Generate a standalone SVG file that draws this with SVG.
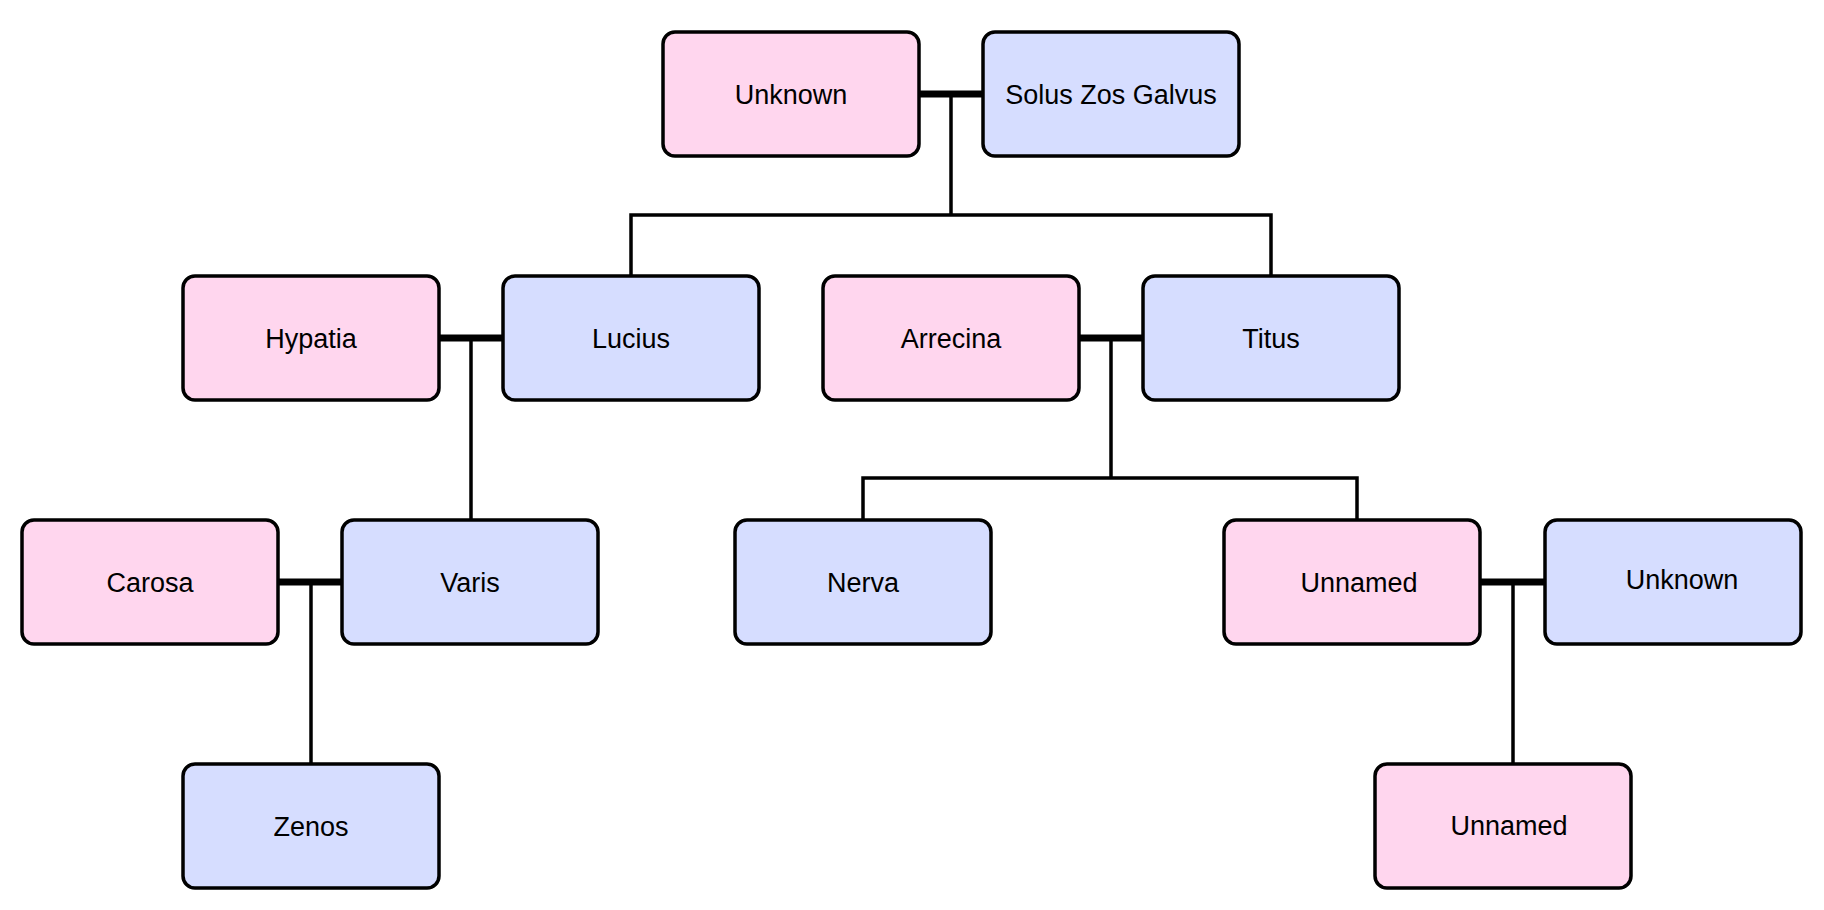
<svg xmlns="http://www.w3.org/2000/svg" width="1824" height="910" viewBox="0 0 1824 910">
<style>
.f{fill:#FFD6EE;stroke:#000;stroke-width:3.5}
.m{fill:#D6DDFF;stroke:#000;stroke-width:3.5}
.t{font-family:"Liberation Sans",Arial,sans-serif;font-size:27px;fill:#000;text-anchor:middle}
.c{stroke:#000;stroke-width:3.5;fill:none}
.k{stroke:#000;stroke-width:7;fill:none}
</style>
<rect width="1824" height="910" fill="#fff"/>
<g id="connectors">
<line class="k" x1="919" y1="94" x2="983" y2="94"/>
<path class="c" d="M951 94V215M631 276V215H1271V276"/>
<line class="k" x1="439" y1="338" x2="503" y2="338"/>
<path class="c" d="M471 338V520"/>
<line class="k" x1="1079" y1="338" x2="1143" y2="338"/>
<path class="c" d="M1111 338V478M863 520V478H1357V520"/>
<line class="k" x1="278" y1="582" x2="342" y2="582"/>
<path class="c" d="M311 582V764"/>
<line class="k" x1="1480" y1="582" x2="1545" y2="582"/>
<path class="c" d="M1513 582V764"/>
</g>
<g id="n-unknown1"><rect class="f" x="663" y="32" width="256" height="124" rx="12"/><text class="t" x="791" y="104">Unknown</text></g>
<g id="n-solus"><rect class="m" x="983" y="32" width="256" height="124" rx="12"/><text class="t" x="1111" y="104">Solus Zos Galvus</text></g>
<g id="n-hypatia"><rect class="f" x="183" y="276" width="256" height="124" rx="12"/><text class="t" x="311" y="348">Hypatia</text></g>
<g id="n-lucius"><rect class="m" x="503" y="276" width="256" height="124" rx="12"/><text class="t" x="631" y="348">Lucius</text></g>
<g id="n-arrecina"><rect class="f" x="823" y="276" width="256" height="124" rx="12"/><text class="t" x="951" y="348">Arrecina</text></g>
<g id="n-titus"><rect class="m" x="1143" y="276" width="256" height="124" rx="12"/><text class="t" x="1271" y="348">Titus</text></g>
<g id="n-carosa"><rect class="f" x="22" y="520" width="256" height="124" rx="12"/><text class="t" x="150" y="592">Carosa</text></g>
<g id="n-varis"><rect class="m" x="342" y="520" width="256" height="124" rx="12"/><text class="t" x="470" y="592">Varis</text></g>
<g id="n-nerva"><rect class="m" x="735" y="520" width="256" height="124" rx="12"/><text class="t" x="863" y="592">Nerva</text></g>
<g id="n-unnamed1"><rect class="f" x="1224" y="520" width="256" height="124" rx="12"/><text class="t" x="1359" y="592">Unnamed</text></g>
<g id="n-unknown2"><rect class="m" x="1545" y="520" width="256" height="124" rx="12"/><text class="t" x="1682" y="589">Unknown</text></g>
<g id="n-zenos"><rect class="m" x="183" y="764" width="256" height="124" rx="12"/><text class="t" x="311" y="836">Zenos</text></g>
<g id="n-unnamed2"><rect class="f" x="1375" y="764" width="256" height="124" rx="12"/><text class="t" x="1509" y="835">Unnamed</text></g>
</svg>
